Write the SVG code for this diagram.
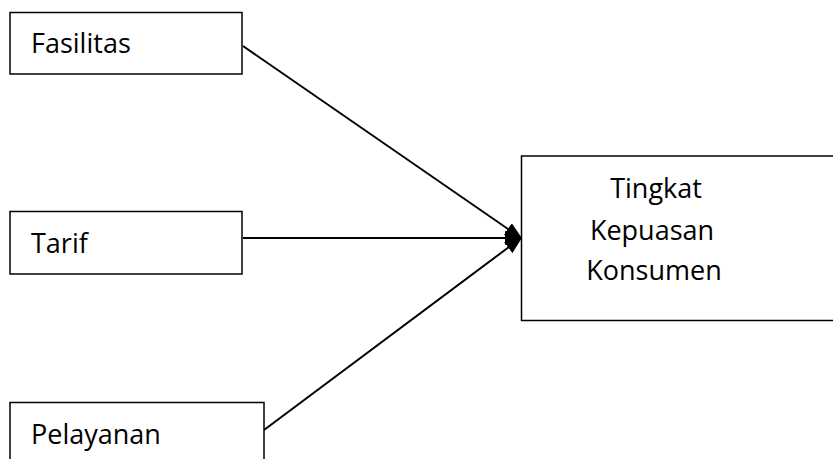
<svg xmlns="http://www.w3.org/2000/svg" width="833" height="459" viewBox="0 0 833 459">
<style>
.box{fill:#fff;stroke:#000;stroke-width:1.5}
.t{font-family:"Open Sans","Liberation Sans",sans-serif;font-size:27px;fill:#000}
.c{stroke:#000;stroke-width:2;fill:none;marker-end:url(#ah)}
</style>
<defs>
<marker id="ah" markerWidth="18" markerHeight="14" refX="16" refY="7" orient="auto" markerUnits="userSpaceOnUse">
<path d="M0,0 L18,7 L0,14 Z" fill="#000"/>
</marker>
</defs>
<rect width="833" height="459" fill="#fff"/>
<g id="connectors">
<line class="c" x1="243" y1="46" x2="521" y2="238"/>
<line class="c" x1="243" y1="238" x2="521" y2="238"/>
<line class="c" x1="264" y1="430" x2="521" y2="238"/>
</g>
<g id="fasilitas">
<rect class="box" x="10" y="12.5" width="232" height="61.5"/>
<text class="t" x="31" y="53">Fasilitas</text>
</g>
<g id="tarif">
<rect class="box" x="10" y="211.5" width="232" height="62.5"/>
<text class="t" x="31" y="253">Tarif</text>
</g>
<g id="pelayanan">
<rect class="box" x="10" y="402.5" width="254" height="70"/>
<text class="t" x="31" y="444">Pelayanan</text>
</g>
<g id="kepuasan">
<rect class="box" x="521.5" y="156" width="320" height="164.5"/>
<text class="t" x="656" y="198" text-anchor="middle">Tingkat</text>
<text class="t" x="652" y="240" text-anchor="middle">Kepuasan</text>
<text class="t" x="654" y="280" text-anchor="middle">Konsumen</text>
</g>
</svg>
